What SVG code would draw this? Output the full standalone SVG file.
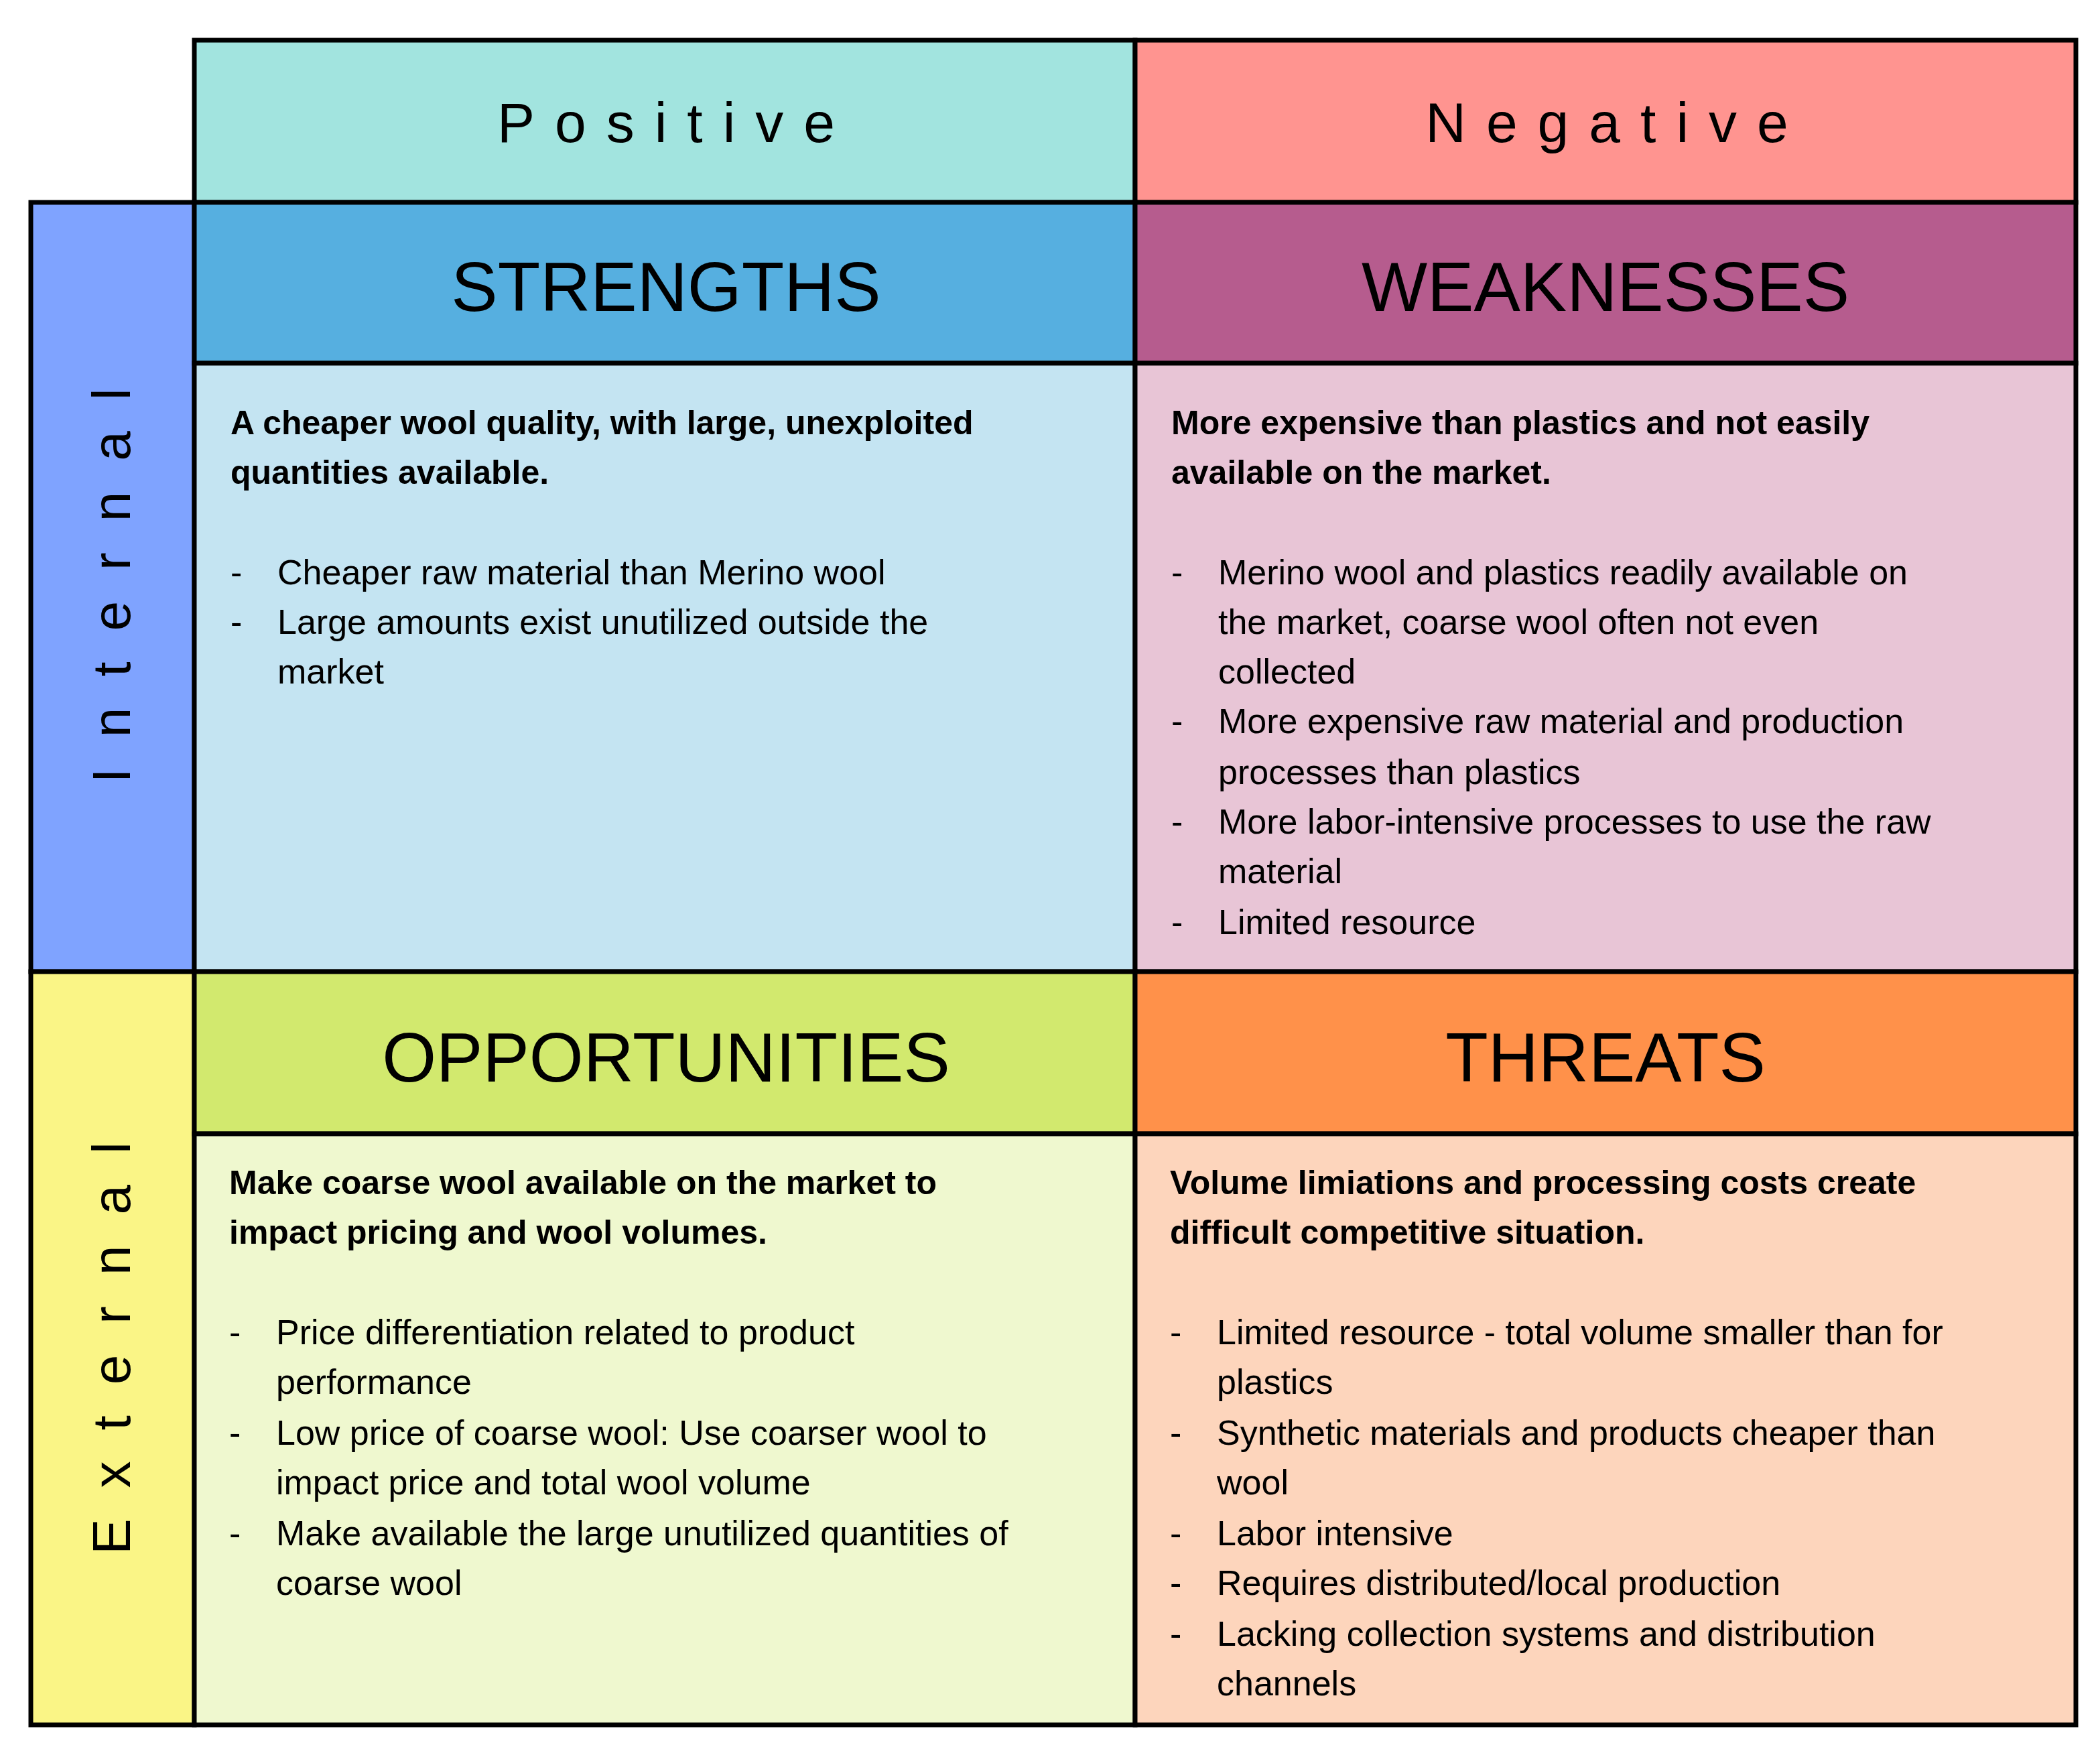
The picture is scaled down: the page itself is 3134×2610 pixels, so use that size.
<svg xmlns="http://www.w3.org/2000/svg" width="3134" height="2610" viewBox="0 0 3134 2610">
<style>
.b{stroke:#000;stroke-width:7}
text{font-family:"Liberation Sans",Arial,sans-serif;fill:#000}
.h{font-size:84px;letter-spacing:30px;text-anchor:middle}
.t{font-size:104px;text-anchor:middle}
.bd{font-size:50px;font-weight:bold}
.tx{font-size:52px}
.s{font-size:80px;letter-spacing:46px;text-anchor:middle}
</style>
<rect width="3134" height="2610" fill="#fff"/>
<g id="positive"><rect class="b" x="290" y="60" width="1404" height="242" fill="#A2E4DF"/><text class="h" x="1009" y="212">Positive</text></g>
<g id="negative"><rect class="b" x="1694" y="60" width="1404" height="242" fill="#FF9490"/><text class="h" x="2413" y="212">Negative</text></g>
<g id="internal"><rect class="b" x="46" y="302" width="244" height="1148" fill="#7FA3FF"/><text class="s" transform="translate(194,874) rotate(-90)" x="23" y="0">Internal</text></g>
<g id="external"><rect class="b" x="46" y="1450" width="244" height="1124" fill="#FAF586"/><text class="s" transform="translate(194,2012) rotate(-90)" x="23" y="0">External</text></g>
<g id="strengths">
<rect class="b" x="290" y="302" width="1404" height="240" fill="#56AFE0"/>
<rect class="b" x="290" y="542" width="1404" height="908" fill="#C4E4F2"/>
<text class="t" x="994" y="464">STRENGTHS</text>
<text class="bd" x="344" y="648">A cheaper wool quality, with large, unexploited</text>
<text class="bd" x="344" y="722">quantities available.</text>
<g class="tx"><text x="344" y="872">-</text><text x="414" y="872">Cheaper raw material than Merino wool</text>
<text x="344" y="946">-</text><text x="414" y="946">Large amounts exist unutilized outside the</text>
<text x="414" y="1020">market</text></g>
</g>
<g id="weaknesses">
<rect class="b" x="1694" y="302" width="1404" height="240" fill="#B65C8E"/>
<rect class="b" x="1694" y="542" width="1404" height="908" fill="#E8C5D6"/>
<text class="t" x="2396" y="464">WEAKNESSES</text>
<text class="bd" x="1748" y="648">More expensive than plastics and not easily</text>
<text class="bd" x="1748" y="722">available on the market.</text>
<g class="tx"><text x="1748" y="872">-</text><text x="1818" y="872">Merino wool and plastics readily available on</text>
<text x="1818" y="946">the market, coarse wool often not even</text>
<text x="1818" y="1020">collected</text>
<text x="1748" y="1094">-</text><text x="1818" y="1094">More expensive raw material and production</text>
<text x="1818" y="1170">processes than plastics</text>
<text x="1748" y="1244">-</text><text x="1818" y="1244">More labor-intensive processes to use the raw</text>
<text x="1818" y="1318">material</text>
<text x="1748" y="1394">-</text><text x="1818" y="1394">Limited resource</text></g>
</g>
<g id="opportunities">
<rect class="b" x="290" y="1450" width="1404" height="242" fill="#D2E96E"/>
<rect class="b" x="290" y="1692" width="1404" height="882" fill="#EFF8CF"/>
<text class="t" x="994" y="1614">OPPORTUNITIES</text>
<text class="bd" x="342" y="1782">Make coarse wool available on the market to</text>
<text class="bd" x="342" y="1856">impact pricing and wool volumes.</text>
<g class="tx"><text x="342" y="2006">-</text><text x="412" y="2006">Price differentiation related to product</text>
<text x="412" y="2080">performance</text>
<text x="342" y="2156">-</text><text x="412" y="2156">Low price of coarse wool: Use coarser wool to</text>
<text x="412" y="2230">impact price and total wool volume</text>
<text x="342" y="2306">-</text><text x="412" y="2306">Make available the large unutilized quantities of</text>
<text x="412" y="2380">coarse wool</text></g>
</g>
<g id="threats">
<rect class="b" x="1694" y="1450" width="1404" height="242" fill="#FF914A"/>
<rect class="b" x="1694" y="1692" width="1404" height="882" fill="#FDD5BC"/>
<text class="t" x="2396" y="1614">THREATS</text>
<text class="bd" x="1746" y="1782">Volume limiations and processing costs create</text>
<text class="bd" x="1746" y="1856">difficult competitive situation.</text>
<g class="tx"><text x="1746" y="2006">-</text><text x="1816" y="2006">Limited resource - total volume smaller than for</text>
<text x="1816" y="2080">plastics</text>
<text x="1746" y="2156">-</text><text x="1816" y="2156">Synthetic materials and products cheaper than</text>
<text x="1816" y="2230">wool</text>
<text x="1746" y="2306">-</text><text x="1816" y="2306">Labor intensive</text>
<text x="1746" y="2380">-</text><text x="1816" y="2380">Requires distributed/local production</text>
<text x="1746" y="2456">-</text><text x="1816" y="2456">Lacking collection systems and distribution</text>
<text x="1816" y="2530">channels</text></g>
</g>
<g id="connectors"/>
</svg>
